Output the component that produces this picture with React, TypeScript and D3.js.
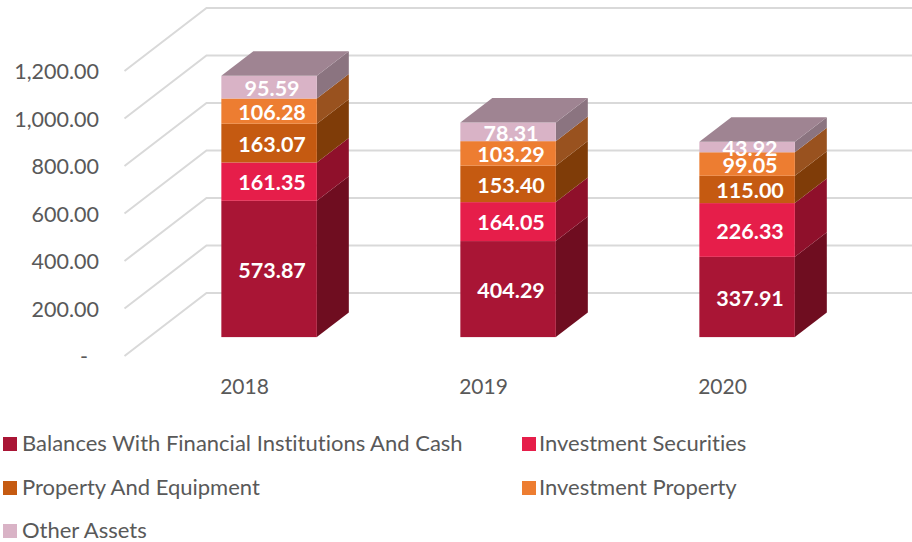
import React, { useEffect, useRef } from 'react';
import * as d3 from 'd3';

const years = ['2018', '2019', '2020'];
const seriesNames = [
  'Balances With Financial Institutions And Cash',
  'Investment Securities',
  'Property And Equipment',
  'Investment Property',
  'Other Assets',
];
const balances = [573.87, 404.29, 337.91];
const securities = [161.35, 164.05, 226.33];
const equipment = [163.07, 153.4, 115.0];
const property = [106.28, 103.29, 99.05];
const otherAssets = [95.59, 78.31, 43.92];
const tickValues = [0, 200, 400, 600, 800, 1000, 1200];

const frontColors = ['#a91535', '#e61e4a', '#c55a11', '#ed7d31', '#d9b3c6'];
const sideColors = ['#6f0d20', '#8f102b', '#7f3c08', '#99521f', '#8b7480'];
const topColor = '#9f8492';
const font = 'Lato, sans-serif';
const noLigatures = 'font-variant-ligatures: none';

const App = () => {
  const chartRef = useRef<SVGSVGElement>(null);

  useEffect(() => {
    const svg = d3.select(chartRef.current);
    svg.selectAll('*').remove();

    // floor goes 82px right and 63px up from the front edge to the back wall
    const depthX = 82;
    const depthY = 63;
    const x = d3.scaleBand().domain(years).range([124.5, 841.5]);
    const y = d3.scaleLinear().domain([0, 1200]).range([356, 71]);
    const barWidth = 95.5;
    const barFront = 0.3; // where the bar starts on the floor
    const barDepth = 0.39;

    const rows = years.map((year, i) => ({
      year,
      a: balances[i],
      b: securities[i],
      c: equipment[i],
      d: property[i],
      e: otherAssets[i],
    }));
    const keys = ['a', 'b', 'c', 'd', 'e'];
    const stacked = d3.stack<any>().keys(keys)(rows);

    const grid = svg.append('g');
    tickValues.forEach((t) => {
      grid
        .append('path')
        .attr('d', `M${x.range()[0]},${y(t)}L${x.range()[0] + depthX},${y(t) - depthY}L912,${y(t) - depthY}`)
        .attr('fill', 'none')
        .attr('stroke', '#d9d9d9')
        .attr('stroke-width', 2);
    });

    // y axis labels, the dash for zero sits left of the others in the original
    svg
      .append('g')
      .selectAll('text')
      .data(tickValues)
      .enter()
      .append('text')
      .attr('x', (d) => (d === 0 ? 88 : 99))
      .attr('y', (d) => y(d) + 1.5)
      .attr('dy', '0.32em')
      .attr('text-anchor', 'end')
      .attr('font-family', font)
      .attr('font-size', 21.5)
      .attr('fill', '#595959')
      .text((d) => (d === 0 ? '-' : d3.format(',.2f')(d)));

    // x axis labels
    svg
      .append('g')
      .selectAll('text')
      .data(years)
      .enter()
      .append('text')
      .attr('x', (d) => x(d)! + x.bandwidth() / 2 + 0.5)
      .attr('y', 387)
      .attr('dy', '0.32em')
      .attr('text-anchor', 'middle')
      .attr('font-family', font)
      .attr('font-size', 21)
      .attr('fill', '#595959')
      .text((d) => d);

    const left = (year: string) =>
      x(year)! + x.bandwidth() / 2 + barFront * depthX - barWidth / 2 + 0.5;
    const frontY = (v: number) => y(v) - barFront * depthY;
    const dx = barDepth * depthX;
    const dy = barDepth * depthY;

    stacked.forEach((layer, s) => {
      const g = svg.append('g');
      layer.forEach((seg, i) => {
        const year = years[i];
        const x0 = left(year);
        const x1 = x0 + barWidth;
        const top = frontY(seg[1]);
        const bottom = frontY(seg[0]);
        g.append('path')
          .attr('d', `M${x1},${bottom}L${x1 + dx},${bottom - dy}L${x1 + dx},${top - dy}L${x1},${top}Z`)
          .attr('fill', sideColors[s]);
        g.append('rect')
          .attr('x', x0)
          .attr('y', top)
          .attr('width', barWidth)
          .attr('height', bottom - top)
          .attr('fill', frontColors[s]);
        if (s === stacked.length - 1) {
          g.append('path')
            .attr('d', `M${x0},${top}L${x0 + dx},${top - dy}L${x1 + dx},${top - dy}L${x1},${top}Z`)
            .attr('fill', topColor);
        }
      });
    });

    // data labels go last so they can overlap neighbours like the original
    stacked.forEach((layer) => {
      layer.forEach((seg, i) => {
        svg
          .append('text')
          .attr('x', left(years[i]) + barWidth / 2 + 3)
          .attr('y', (frontY(seg[0]) + frontY(seg[1])) / 2 + 1.5)
          .attr('dy', '0.34em')
          .attr('text-anchor', 'middle')
          .attr('font-family', font)
          .attr('font-weight', 700)
          .attr('font-size', 21.5)
          .attr('fill', '#ffffff')
          .text(d3.format('.2f')(seg[1] - seg[0]));
      });
    });

    // legend
    const legendX = [3, 522];
    const legendTextX = [22, 539];
    const legendY = [444, 488, 531];
    seriesNames.forEach((name, i) => {
      const ly = legendY[Math.floor(i / 2)];
      svg
        .append('rect')
        .attr('x', legendX[i % 2])
        .attr('y', ly - 7)
        .attr('width', 14)
        .attr('height', 14)
        .attr('fill', frontColors[i]);
      svg
        .append('text')
        .attr('x', legendTextX[i % 2])
        .attr('y', ly)
        .attr('dy', '0.32em')
        .attr('font-family', font)
        .attr('font-size', 22)
        .attr('style', noLigatures)
        .attr('fill', '#595959')
        .text(name);
    });

    return () => {
      svg.selectAll('*').remove();
    };
  }, []);

  return (
    <svg
      ref={chartRef}
      width={912}
      height={542}
      style={{ position: 'absolute', left: 0, top: 0, background: '#fff' }}
    />
  );
};

export default App;
